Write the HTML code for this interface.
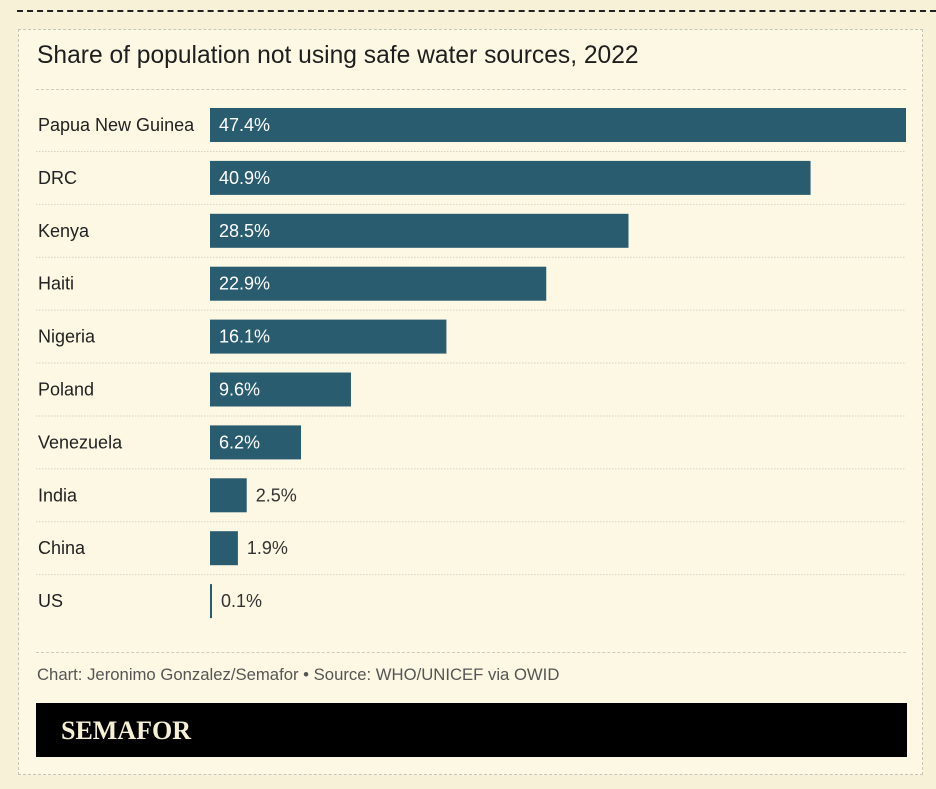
<!DOCTYPE html>
<html><head><meta charset="utf-8"><style>
body{margin:0;width:936px;height:789px;background:#f7f1d8;font-family:"Liberation Sans",sans-serif;overflow:hidden;position:relative}
.top{position:absolute;left:17px;right:0;top:10px;border-top:2px dashed #222}
.box{position:absolute;left:18px;top:29px;width:905px;height:746px;border:1.5px dashed #c8c4b4;background:#fcf8e4;box-sizing:border-box}
.title{position:absolute;left:37px;top:42px;font-size:24.6px;color:#1e1e1e}
.sep{position:absolute;left:36px;width:870px;border-top:1.5px dashed #cfcbbb}
.footer{position:absolute;left:37px;top:665px;font-size:16.7px;color:#555}
.logo{position:absolute;left:36px;top:703px;width:871px;height:54px;background:#000;color:#f5efd3;font-family:"Liberation Serif",serif;font-weight:bold;font-size:26px;line-height:56px;padding-left:25px;box-sizing:border-box}
</style></head><body>
<div class="top"></div>
<div class="box"></div>
<div class="title">Share of population not using safe water sources, 2022</div>
<div class="sep" style="top:89px"></div>
<svg id="chart" width="936" height="789" style="position:absolute;left:0;top:0"></svg>
<div class="sep" style="top:652px"></div>
<div class="footer">Chart: Jeronimo Gonzalez/Semafor • Source: WHO/UNICEF via OWID</div>
<div class="logo">SEMAFOR</div>
<script>
const categories=["Papua New Guinea","DRC","Kenya","Haiti","Nigeria","Poland","Venezuela","India","China","US"];
const values=[47.4,40.9,28.5,22.9,16.1,9.6,6.2,2.5,1.9,0.1];
const labels=["47.4%","40.9%","28.5%","22.9%","16.1%","9.6%","6.2%","2.5%","1.9%","0.1%"];
const svg=document.getElementById('chart');
const NS='http://www.w3.org/2000/svg';
const x0=210,x1=906,maxV=47.4;
const xs=v=>(v/maxV)*(x1-x0);
const y0=125,pitch=52.9,bh=34;
const ys=i=>y0+i*pitch;
categories.forEach((c,i)=>{
  const cy=ys(i);
  if(i<categories.length-1){
    const l=document.createElementNS(NS,'line');
    l.setAttribute('x1',36);l.setAttribute('x2',906);
    l.setAttribute('y1',cy+pitch/2);l.setAttribute('y2',cy+pitch/2);
    l.setAttribute('stroke','#d6d2c2');l.setAttribute('stroke-dasharray','1.5 1.5');
    
    
    svg.appendChild(l);
  }
  const t=document.createElementNS(NS,'text');
  t.setAttribute('x',38);t.setAttribute('y',cy+6);
  t.setAttribute('font-size','18');t.setAttribute('fill','#222');
  t.textContent=c;
  
  
  svg.appendChild(t);
  const w=Math.max(xs(values[i]),2);
  const r=document.createElementNS(NS,'rect');
  r.setAttribute('x',x0);r.setAttribute('y',cy-bh/2);
  r.setAttribute('width',w);r.setAttribute('height',bh);
  r.setAttribute('fill','#2a5c70');
  
  
  svg.appendChild(r);
  const inside=w>60;
  const v=document.createElementNS(NS,'text');
  v.setAttribute('x',inside?x0+9:x0+w+9);v.setAttribute('y',cy+6);
  v.setAttribute('font-size','18');v.setAttribute('fill',inside?'#fff':'#333');
  v.textContent=labels[i];
  
  
  svg.appendChild(v);
});
</script>
</body></html>
